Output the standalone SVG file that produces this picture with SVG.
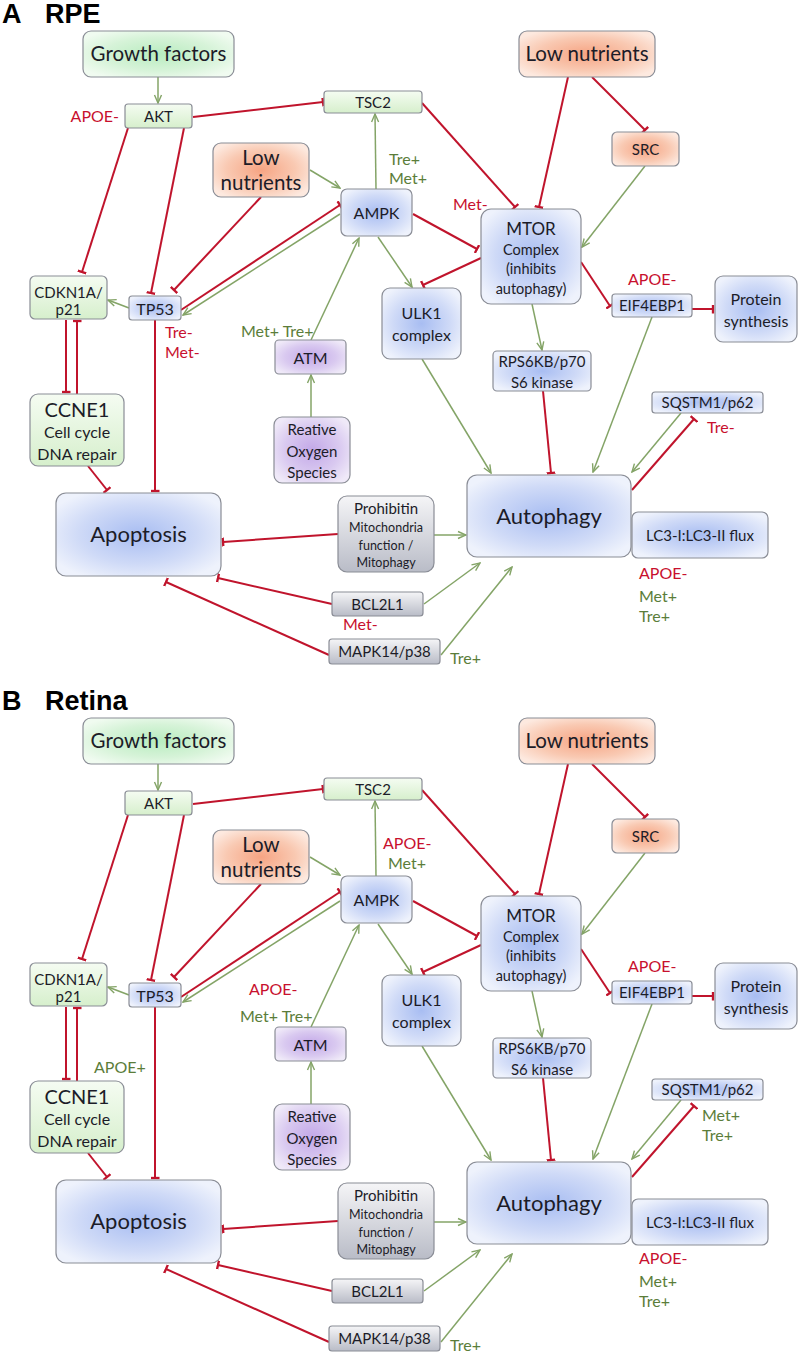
<svg xmlns="http://www.w3.org/2000/svg" width="800" height="1354" viewBox="0 0 800 1354">
<style>
.n{stroke:#8a8d96;stroke-width:1.2}
.blue{fill:url(#gBlue)}
.grn{fill:url(#gGreen)}
.sg{fill:url(#gSGreen)}
.org{fill:url(#gOrange)}
.pur{fill:url(#gPurple)}
.gry{fill:url(#gGray)}
text{font-family:Lato,"Liberation Sans",sans-serif;fill:#1c1c28;text-anchor:middle}
.t21{font-size:20.5px}
.t22{font-size:22px}
.t20{font-size:20px}
.t17{font-size:17px}
.t16{font-size:16px}
.t15{font-size:15px}
.t14{font-size:14.5px}
.t13{font-size:12.5px}
.lr{fill:#c8102e;font-size:16px;text-anchor:start}
.lg{fill:#5b7d3a;font-size:16px;text-anchor:start}
.lre{fill:#c8102e;font-size:16px;text-anchor:end}
.title{font-family:"Liberation Sans",Arial,sans-serif;font-weight:bold;font-size:27px;fill:#000;text-anchor:start}
.r{stroke:#c0142c;stroke-width:2;fill:none;marker-end:url(#bar)}
.g{stroke:#84a467;stroke-width:1.5;fill:none;marker-end:url(#arr)}
</style>
<defs>
<radialGradient id="gBlue" cx="0.5" cy="0.5" r="0.6"><stop offset="0" stop-color="#a8bdf2"/><stop offset="0.6" stop-color="#cfdaf7"/><stop offset="1" stop-color="#eef2fc"/></radialGradient>
<radialGradient id="gGreen" cx="0.5" cy="0.5" r="0.6"><stop offset="0" stop-color="#b8ecbf"/><stop offset="0.6" stop-color="#d6f3d8"/><stop offset="1" stop-color="#f0fbf0"/></radialGradient>
<linearGradient id="gSGreen" x1="0" y1="0" x2="0" y2="1"><stop offset="0" stop-color="#f5fcf2"/><stop offset="1" stop-color="#d6efcc"/></linearGradient>
<radialGradient id="gOrange" cx="0.5" cy="0.5" r="0.6"><stop offset="0" stop-color="#f6a483"/><stop offset="0.6" stop-color="#f9c9b2"/><stop offset="1" stop-color="#fde9df"/></radialGradient>
<radialGradient id="gPurple" cx="0.5" cy="0.5" r="0.6"><stop offset="0" stop-color="#c3a8e8"/><stop offset="0.6" stop-color="#d9c9f0"/><stop offset="1" stop-color="#efe9f8"/></radialGradient>
<linearGradient id="gGray" x1="0" y1="0" x2="0" y2="1"><stop offset="0" stop-color="#f5f5f7"/><stop offset="1" stop-color="#b9bcc7"/></linearGradient>
<marker id="arr" viewBox="0 0 10 10" refX="9" refY="5" markerWidth="10" markerHeight="10" orient="auto" markerUnits="userSpaceOnUse"><path d="M1,1.5 L9,5 L1,8.5" fill="none" stroke="#84a467" stroke-width="1.4"/></marker>
<marker id="bar" viewBox="0 0 4 10" refX="2.5" refY="5" markerWidth="4" markerHeight="9" orient="auto" markerUnits="userSpaceOnUse"><path d="M2.5,0 L2.5,10" stroke="#c0142c" stroke-width="2.6"/></marker>
</defs>
<rect width="800" height="1354" fill="#ffffff"/>

<!-- ================= PANEL A ================= -->
<g id="panel-a">
<text class="title" x="2" y="23">A</text>
<text class="title" x="45" y="23">RPE</text>
<g id="a-connectors">
<line class="g" x1="158" y1="77" x2="158" y2="103"/>
<line class="r" x1="193" y1="117" x2="323" y2="102"/>
<line class="r" x1="128" y1="128" x2="82" y2="272"/>
<line class="r" x1="184" y1="128" x2="151" y2="293"/>
<line class="r" x1="261" y1="197" x2="174" y2="290"/>
<line class="r" x1="181" y1="310" x2="340" y2="205"/>
<line class="g" x1="340" y1="214" x2="183" y2="315"/>
<line class="g" x1="310" y1="170" x2="340" y2="188"/>
<line class="g" x1="376" y1="189" x2="375" y2="114"/>
<line class="r" x1="422" y1="103" x2="515" y2="207"/>
<line class="r" x1="568" y1="77" x2="539" y2="207"/>
<line class="r" x1="592" y1="77" x2="645" y2="130"/>
<line class="g" x1="645" y1="166" x2="582" y2="247"/>
<line class="r" x1="413" y1="214" x2="477" y2="249"/>
<line class="g" x1="378" y1="237" x2="412" y2="287"/>
<line class="r" x1="481" y1="258" x2="423" y2="285"/>
<line class="g" x1="311" y1="340" x2="359" y2="238"/>
<line class="g" x1="311" y1="417" x2="311" y2="375"/>
<line class="r" x1="581" y1="262" x2="610" y2="306"/>
<line class="r" x1="692" y1="309" x2="713" y2="309"/>
<line class="g" x1="532" y1="304" x2="542" y2="350"/>
<line class="r" x1="543" y1="391" x2="551" y2="473"/>
<line class="g" x1="422" y1="359" x2="491" y2="473"/>
<line class="g" x1="652" y1="317" x2="593" y2="472"/>
<line class="g" x1="681" y1="413" x2="632" y2="472"/>
<line class="r" x1="632" y1="490" x2="694" y2="419"/>
<line class="r" x1="338" y1="534" x2="223" y2="542"/>
<line class="g" x1="434" y1="535" x2="466" y2="535"/>
<line class="r" x1="332" y1="604" x2="218" y2="578"/>
<line class="g" x1="424" y1="604" x2="480" y2="563"/>
<line class="r" x1="329" y1="655" x2="166" y2="582"/>
<line class="g" x1="441" y1="655" x2="512" y2="567"/>
<line class="g" x1="129" y1="308" x2="108" y2="300"/>
<line class="r" x1="66" y1="320" x2="66" y2="392"/>
<line class="r" x1="77" y1="394" x2="77" y2="321"/>
<line class="r" x1="88" y1="466" x2="107" y2="490"/>
<line class="r" x1="155" y1="320" x2="155" y2="491"/>
</g>
<g id="a-growth"><rect class="n grn" x="83" y="31" width="151" height="46" rx="8"/><text class="t21" x="158.5" y="61">Growth factors</text></g>
<g id="a-akt"><rect class="n sg" x="125" y="104" width="67" height="24" rx="3"/><text class="t15" x="158.5" y="122">AKT</text></g>
<g id="a-tsc2"><rect class="n sg" x="324" y="91" width="98" height="22" rx="3"/><text class="t15" x="373" y="108">TSC2</text></g>
<g id="a-lownut1"><rect class="n org" x="519" y="31" width="136" height="46" rx="8"/><text class="t21" x="587" y="61">Low nutrients</text></g>
<g id="a-src"><rect class="n org" x="612" y="132" width="67" height="34" rx="5"/><text class="t15" x="645.5" y="155">SRC</text></g>
<g id="a-lownut2"><rect class="n org" x="213" y="143" width="96" height="54" rx="8"/><text class="t21" x="261" y="165">Low</text><text class="t21" x="261" y="190">nutrients</text></g>
<g id="a-ampk"><rect class="n blue" x="341" y="189" width="71" height="47" rx="6"/><text class="t16" x="376.5" y="219">AMPK</text></g>
<g id="a-mtor"><rect class="n blue" x="481" y="209" width="100" height="95" rx="10"/><text class="t17" x="531" y="235">MTOR</text><text class="t14" x="531" y="255">Complex</text><text class="t14" x="531" y="274">(inhibits</text><text class="t14" x="531" y="294">autophagy)</text></g>
<g id="a-ulk1"><rect class="n blue" x="382" y="288" width="79" height="71" rx="8"/><text class="t16" x="421.5" y="319">ULK1</text><text class="t16" x="421.5" y="341">complex</text></g>
<g id="a-rps6kb"><rect class="n blue" x="493" y="351" width="98" height="40" rx="4"/><text class="t15" x="542" y="367">RPS6KB/p70</text><text class="t15" x="542" y="388">S6 kinase</text></g>
<g id="a-eif4ebp1"><rect class="n blue" x="612" y="294" width="80" height="23" rx="3"/><text class="t15" x="652" y="311">EIF4EBP1</text></g>
<g id="a-protein"><rect class="n blue" x="715" y="276" width="82" height="66" rx="8"/><text class="t16" x="756" y="305">Protein</text><text class="t16" x="756" y="327">synthesis</text></g>
<g id="a-sqstm1"><rect class="n blue" x="652" y="392" width="111" height="21" rx="3"/><text class="t15" x="707.5" y="408">SQSTM1/p62</text></g>
<g id="a-autophagy"><rect class="n blue" x="467" y="475" width="164" height="82" rx="10"/><text class="t22" x="549" y="524">Autophagy</text></g>
<g id="a-lc3"><rect class="n blue" x="632" y="512" width="136" height="46" rx="6"/><text class="t15" x="700" y="541">LC3-I:LC3-II flux</text></g>
<g id="a-prohibitin"><rect class="n gry" x="338" y="496" width="96" height="76" rx="9"/><text class="t15" x="386" y="514">Prohibitin</text><text class="t13" x="386" y="532">Mitochondria</text><text class="t13" x="386" y="550">function /</text><text class="t13" x="386" y="567">Mitophagy</text></g>
<g id="a-bcl2l1"><rect class="n gry" x="332" y="592" width="91" height="24" rx="3"/><text class="t15" x="377.5" y="610">BCL2L1</text></g>
<g id="a-mapk14"><rect class="n gry" x="329" y="639" width="111" height="25" rx="3"/><text class="t15" x="384.5" y="657">MAPK14/p38</text></g>
<g id="a-apoptosis"><rect class="n blue" x="56" y="493" width="165" height="83" rx="10"/><text class="t22" x="138.5" y="542">Apoptosis</text></g>
<g id="a-cdkn1a"><rect class="n sg" x="30" y="276" width="77" height="43" rx="5"/><text class="t15" x="68.5" y="298">CDKN1A/</text><text class="t15" x="68.5" y="315">p21</text></g>
<g id="a-tp53"><rect class="n blue" x="129" y="296" width="52" height="24" rx="3"/><text class="t16" x="155" y="315">TP53</text></g>
<g id="a-ccne1"><rect class="n sg" x="30" y="394" width="94" height="72" rx="8"/><text class="t20" x="77" y="417">CCNE1</text><text class="t16" x="77" y="438">Cell cycle</text><text class="t16" x="77" y="460">DNA repair</text></g>
<g id="a-atm"><rect class="n pur" x="275" y="340" width="71" height="34" rx="4"/><text class="t16" x="310.5" y="364">ATM</text></g>
<g id="a-ros"><rect class="n pur" x="274" y="417" width="76" height="66" rx="8"/><text class="t15" x="312" y="435">Reative</text><text class="t15" x="312" y="457">Oxygen</text><text class="t15" x="312" y="478">Species</text></g>
<g id="a-labels">
<text class="lre" x="119" y="122">APOE-</text>
<text class="lg" x="389" y="165">Tre+</text>
<text class="lg" x="389" y="184">Met+</text>
<text class="lr" x="453" y="210">Met-</text>
<text class="lr" x="165" y="338">Tre-</text>
<text class="lr" x="165" y="358">Met-</text>
<text class="lg" x="241" y="337">Met+ Tre+</text>
<text class="lr" x="628" y="285">APOE-</text>
<text class="lr" x="707" y="433">Tre-</text>
<text class="lr" x="343" y="630">Met-</text>
<text class="lg" x="450" y="664">Tre+</text>
<text class="lr" x="639" y="579">APOE-</text>
<text class="lg" x="639" y="602">Met+</text>
<text class="lg" x="639" y="622">Tre+</text>
</g>
</g>

<!-- ================= PANEL B ================= -->
<g id="panel-b" transform="translate(0,687)">
<text class="title" x="2" y="23">B</text>
<text class="title" x="45" y="23">Retina</text>
<g id="b-connectors">
<line class="g" x1="158" y1="77" x2="158" y2="103"/>
<line class="r" x1="193" y1="117" x2="323" y2="102"/>
<line class="r" x1="128" y1="128" x2="82" y2="272"/>
<line class="r" x1="184" y1="128" x2="151" y2="293"/>
<line class="r" x1="261" y1="197" x2="174" y2="290"/>
<line class="r" x1="181" y1="310" x2="340" y2="205"/>
<line class="g" x1="340" y1="214" x2="183" y2="315"/>
<line class="g" x1="310" y1="170" x2="340" y2="188"/>
<line class="g" x1="376" y1="189" x2="375" y2="114"/>
<line class="r" x1="422" y1="103" x2="515" y2="207"/>
<line class="r" x1="568" y1="77" x2="539" y2="207"/>
<line class="r" x1="592" y1="77" x2="645" y2="130"/>
<line class="g" x1="645" y1="166" x2="582" y2="247"/>
<line class="r" x1="413" y1="214" x2="477" y2="249"/>
<line class="g" x1="378" y1="237" x2="412" y2="287"/>
<line class="r" x1="481" y1="258" x2="423" y2="285"/>
<line class="g" x1="311" y1="340" x2="359" y2="238"/>
<line class="g" x1="311" y1="417" x2="311" y2="375"/>
<line class="r" x1="581" y1="262" x2="610" y2="306"/>
<line class="r" x1="692" y1="309" x2="713" y2="309"/>
<line class="g" x1="532" y1="304" x2="542" y2="350"/>
<line class="r" x1="543" y1="391" x2="551" y2="473"/>
<line class="g" x1="422" y1="359" x2="491" y2="473"/>
<line class="g" x1="652" y1="317" x2="593" y2="472"/>
<line class="g" x1="681" y1="413" x2="632" y2="472"/>
<line class="r" x1="632" y1="490" x2="694" y2="419"/>
<line class="r" x1="338" y1="534" x2="223" y2="542"/>
<line class="g" x1="434" y1="535" x2="466" y2="535"/>
<line class="r" x1="332" y1="604" x2="218" y2="578"/>
<line class="g" x1="424" y1="604" x2="480" y2="563"/>
<line class="r" x1="329" y1="655" x2="166" y2="582"/>
<line class="g" x1="441" y1="655" x2="512" y2="567"/>
<line class="g" x1="129" y1="308" x2="108" y2="300"/>
<line class="r" x1="66" y1="320" x2="66" y2="392"/>
<line class="r" x1="77" y1="394" x2="77" y2="321"/>
<line class="r" x1="88" y1="466" x2="107" y2="490"/>
<line class="r" x1="155" y1="320" x2="155" y2="491"/>
</g>
<g id="b-growth"><rect class="n grn" x="83" y="31" width="151" height="46" rx="8"/><text class="t21" x="158.5" y="61">Growth factors</text></g>
<g id="b-akt"><rect class="n sg" x="125" y="104" width="67" height="24" rx="3"/><text class="t15" x="158.5" y="122">AKT</text></g>
<g id="b-tsc2"><rect class="n sg" x="324" y="91" width="98" height="22" rx="3"/><text class="t15" x="373" y="108">TSC2</text></g>
<g id="b-lownut1"><rect class="n org" x="519" y="31" width="136" height="46" rx="8"/><text class="t21" x="587" y="61">Low nutrients</text></g>
<g id="b-src"><rect class="n org" x="612" y="132" width="67" height="34" rx="5"/><text class="t15" x="645.5" y="155">SRC</text></g>
<g id="b-lownut2"><rect class="n org" x="213" y="143" width="96" height="54" rx="8"/><text class="t21" x="261" y="165">Low</text><text class="t21" x="261" y="190">nutrients</text></g>
<g id="b-ampk"><rect class="n blue" x="341" y="189" width="71" height="47" rx="6"/><text class="t16" x="376.5" y="219">AMPK</text></g>
<g id="b-mtor"><rect class="n blue" x="481" y="209" width="100" height="95" rx="10"/><text class="t17" x="531" y="235">MTOR</text><text class="t14" x="531" y="255">Complex</text><text class="t14" x="531" y="274">(inhibits</text><text class="t14" x="531" y="294">autophagy)</text></g>
<g id="b-ulk1"><rect class="n blue" x="382" y="288" width="79" height="71" rx="8"/><text class="t16" x="421.5" y="319">ULK1</text><text class="t16" x="421.5" y="341">complex</text></g>
<g id="b-rps6kb"><rect class="n blue" x="493" y="351" width="98" height="40" rx="4"/><text class="t15" x="542" y="367">RPS6KB/p70</text><text class="t15" x="542" y="388">S6 kinase</text></g>
<g id="b-eif4ebp1"><rect class="n blue" x="612" y="294" width="80" height="23" rx="3"/><text class="t15" x="652" y="311">EIF4EBP1</text></g>
<g id="b-protein"><rect class="n blue" x="715" y="276" width="82" height="66" rx="8"/><text class="t16" x="756" y="305">Protein</text><text class="t16" x="756" y="327">synthesis</text></g>
<g id="b-sqstm1"><rect class="n blue" x="652" y="392" width="111" height="21" rx="3"/><text class="t15" x="707.5" y="408">SQSTM1/p62</text></g>
<g id="b-autophagy"><rect class="n blue" x="467" y="475" width="164" height="82" rx="10"/><text class="t22" x="549" y="524">Autophagy</text></g>
<g id="b-lc3"><rect class="n blue" x="632" y="512" width="136" height="46" rx="6"/><text class="t15" x="700" y="541">LC3-I:LC3-II flux</text></g>
<g id="b-prohibitin"><rect class="n gry" x="338" y="496" width="96" height="76" rx="9"/><text class="t15" x="386" y="514">Prohibitin</text><text class="t13" x="386" y="532">Mitochondria</text><text class="t13" x="386" y="550">function /</text><text class="t13" x="386" y="567">Mitophagy</text></g>
<g id="b-bcl2l1"><rect class="n gry" x="332" y="592" width="91" height="24" rx="3"/><text class="t15" x="377.5" y="610">BCL2L1</text></g>
<g id="b-mapk14"><rect class="n gry" x="329" y="639" width="111" height="25" rx="3"/><text class="t15" x="384.5" y="657">MAPK14/p38</text></g>
<g id="b-apoptosis"><rect class="n blue" x="56" y="493" width="165" height="83" rx="10"/><text class="t22" x="138.5" y="542">Apoptosis</text></g>
<g id="b-cdkn1a"><rect class="n sg" x="30" y="276" width="77" height="43" rx="5"/><text class="t15" x="68.5" y="298">CDKN1A/</text><text class="t15" x="68.5" y="315">p21</text></g>
<g id="b-tp53"><rect class="n blue" x="129" y="296" width="52" height="24" rx="3"/><text class="t16" x="155" y="315">TP53</text></g>
<g id="b-ccne1"><rect class="n sg" x="30" y="394" width="94" height="72" rx="8"/><text class="t20" x="77" y="417">CCNE1</text><text class="t16" x="77" y="438">Cell cycle</text><text class="t16" x="77" y="460">DNA repair</text></g>
<g id="b-atm"><rect class="n pur" x="275" y="340" width="71" height="34" rx="4"/><text class="t16" x="310.5" y="364">ATM</text></g>
<g id="b-ros"><rect class="n pur" x="274" y="417" width="76" height="66" rx="8"/><text class="t15" x="312" y="435">Reative</text><text class="t15" x="312" y="457">Oxygen</text><text class="t15" x="312" y="478">Species</text></g>
<g id="b-labels">
<text class="lr" x="383" y="162">APOE-</text>
<text class="lg" x="388" y="182">Met+</text>
<text class="lr" x="249" y="308">APOE-</text>
<text class="lg" x="240" y="335">Met+ Tre+</text>
<text class="lg" x="94" y="386">APOE+</text>
<text class="lr" x="628" y="285">APOE-</text>
<text class="lg" x="702" y="434">Met+</text>
<text class="lg" x="702" y="454">Tre+</text>
<text class="lg" x="450" y="664">Tre+</text>
<text class="lr" x="639" y="577">APOE-</text>
<text class="lg" x="639" y="600">Met+</text>
<text class="lg" x="639" y="620">Tre+</text>
</g>
</g>
</svg>
